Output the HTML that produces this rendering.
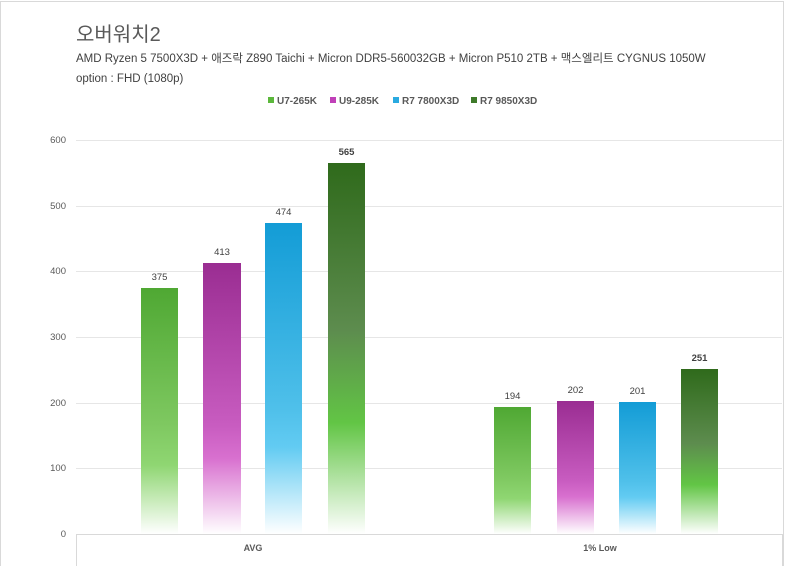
<!DOCTYPE html>
<html><head><meta charset="utf-8"><style>
body{margin:0;background:#fff;}
svg{display:block;font-family:"Liberation Sans","Noto Sans CJK KR",sans-serif;}
</style></head><body>
<svg width="800" height="566" viewBox="0 0 800 566">
<defs>
<linearGradient id="g1" x1="0" y1="0" x2="0" y2="1"><stop offset="0" stop-color="#4fa833"/><stop offset="0.55" stop-color="#7ec860"/><stop offset="0.72" stop-color="#8fd672"/><stop offset="1" stop-color="#ffffff"/></linearGradient>
<linearGradient id="g2" x1="0" y1="0" x2="0" y2="1"><stop offset="0" stop-color="#9a2d92"/><stop offset="0.6" stop-color="#c85cc0"/><stop offset="0.72" stop-color="#d870cf"/><stop offset="1" stop-color="#ffffff"/></linearGradient>
<linearGradient id="g3" x1="0" y1="0" x2="0" y2="1"><stop offset="0" stop-color="#139cd6"/><stop offset="0.6" stop-color="#4fc0ea"/><stop offset="0.72" stop-color="#62cbf2"/><stop offset="1" stop-color="#ffffff"/></linearGradient>
<linearGradient id="g4" x1="0" y1="0" x2="0" y2="1"><stop offset="0" stop-color="#2f6a1b"/><stop offset="0.45" stop-color="#5d8c4e"/><stop offset="0.7" stop-color="#62c545"/><stop offset="1" stop-color="#ffffff"/></linearGradient>
</defs>
<rect x="0.5" y="1.5" width="783" height="570" fill="none" stroke="#d9d9d9"/>
<text x="76" y="41" font-size="20" fill="#595959">오버워치2</text>
<text x="76" y="62" font-size="11.5" fill="#404040">AMD Ryzen 5 7500X3D + 애즈락 Z890 Taichi + Micron DDR5-560032GB + Micron P510 2TB + 맥스엘리트 CYGNUS 1050W</text>
<text x="76" y="82" font-size="11.5" fill="#404040">option :  FHD (1080p)</text>
<g font-size="10" font-weight="bold" fill="#595959">
<rect x="268" y="97" width="6" height="6" fill="#5cb83c"/><text x="277" y="104">U7-265K</text>
<rect x="330" y="97" width="6" height="6" fill="#c040b8"/><text x="339" y="104">U9-285K</text>
<rect x="393" y="97" width="6" height="6" fill="#2aaae0"/><text x="402" y="104">R7 7800X3D</text>
<rect x="471" y="97" width="6" height="6" fill="#3e7a2a"/><text x="480" y="104">R7 9850X3D</text>
</g>
<g stroke="#e6e6e6" stroke-width="1">
<line x1="76" y1="140.5" x2="782" y2="140.5"/><line x1="76" y1="206.5" x2="782" y2="206.5"/><line x1="76" y1="271.5" x2="782" y2="271.5"/><line x1="76" y1="337.5" x2="782" y2="337.5"/><line x1="76" y1="403.5" x2="782" y2="403.5"/><line x1="76" y1="468.5" x2="782" y2="468.5"/>
</g>
<g font-size="9.5" fill="#595959" text-anchor="end">
<text x="66" y="143">600</text><text x="66" y="209">500</text><text x="66" y="274">400</text><text x="66" y="340">300</text><text x="66" y="406">200</text><text x="66" y="471">100</text><text x="66" y="537">0</text>
</g>
<rect x="141" y="288" width="37" height="246" fill="url(#g1)"/>
<rect x="203" y="263" width="38" height="271" fill="url(#g2)"/>
<rect x="265" y="223" width="37" height="311" fill="url(#g3)"/>
<rect x="328" y="163" width="37" height="371" fill="url(#g4)"/>
<rect x="494" y="407" width="37" height="127" fill="url(#g1)"/>
<rect x="557" y="401" width="37" height="133" fill="url(#g2)"/>
<rect x="619" y="402" width="37" height="132" fill="url(#g3)"/>
<rect x="681" y="369" width="37" height="165" fill="url(#g4)"/>
<g font-size="9.5" fill="#404040" text-anchor="middle">
<text x="159.5" y="280">375</text><text x="222" y="255">413</text><text x="283.5" y="215">474</text><text x="346.5" y="155" font-weight="bold">565</text>
<text x="512.5" y="399">194</text><text x="575.5" y="393">202</text><text x="637.5" y="394">201</text><text x="699.5" y="361" font-weight="bold">251</text>
</g>
<rect x="76.5" y="534.5" width="706" height="40" fill="none" stroke="#d9d9d9"/>
<g font-size="9" font-weight="bold" fill="#595959" text-anchor="middle">
<text x="253" y="551">AVG</text><text x="600" y="551">1% Low</text>
</g>
</svg>
</body></html>
